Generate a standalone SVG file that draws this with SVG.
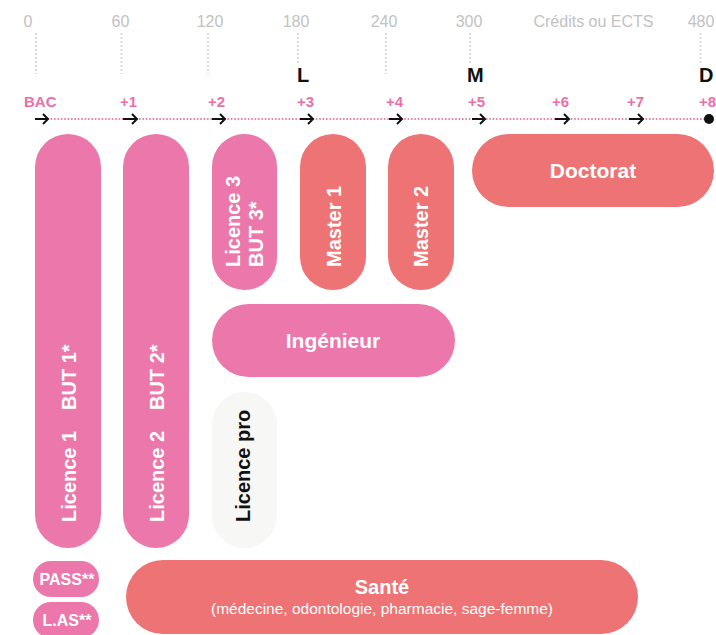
<svg xmlns="http://www.w3.org/2000/svg" width="716" height="635" viewBox="0 0 716 635">
<style>
.num{font-family:"Liberation Sans",Arial,sans-serif;font-size:16px;fill:#c2c2c2;text-anchor:middle}
.tick{stroke:#dcdcdc;stroke-width:2;stroke-dasharray:2 2}
.lmd{font-family:"Liberation Sans",Arial,sans-serif;font-size:20px;font-weight:bold;fill:#111}
.yr{font-family:"Liberation Sans",Arial,sans-serif;font-size:15px;font-weight:bold;fill:#ec6fa6}
.arr{fill:none;stroke:#111;stroke-width:2}
.pink{fill:#ec77aa}
.sal{fill:#ed7374}
.lbl{font-family:"Liberation Sans",Arial,sans-serif;font-size:20px;font-weight:bold;fill:#fff}
.big{font-size:21px}
.ctr{text-anchor:middle}
.sm{font-family:"Liberation Sans",Arial,sans-serif;font-size:15.5px;fill:#fff;text-anchor:middle}
</style>
<g id="axis">
<text class="num" x="28" y="27">0</text>
<text class="num" x="120.5" y="27">60</text>
<text class="num" x="210" y="27">120</text>
<text class="num" x="296" y="27">180</text>
<text class="num" x="384" y="27">240</text>
<text class="num" x="469" y="27">300</text>
<text class="num" x="593.5" y="27">Crédits ou ECTS</text>
<text class="num" x="701" y="27">480</text>
<line class="tick" x1="36" y1="33" x2="36" y2="74"/>
<line class="tick" x1="121.5" y1="33" x2="121.5" y2="74"/>
<line class="tick" x1="208" y1="33" x2="208" y2="74"/>
<line class="tick" x1="298" y1="33" x2="298" y2="64"/>
<line class="tick" x1="386" y1="33" x2="386" y2="74"/>
<line class="tick" x1="470" y1="33" x2="470" y2="64"/>
<line class="tick" x1="700.5" y1="33" x2="700.5" y2="64"/>
<text class="lmd" x="297" y="82">L</text>
<text class="lmd" x="467" y="82">M</text>
<text class="lmd" x="699" y="82">D</text>
<text class="yr" x="24" y="107">BAC</text>
<text class="yr" x="120" y="107">+1</text>
<text class="yr" x="208" y="107">+2</text>
<text class="yr" x="297" y="107">+3</text>
<text class="yr" x="386" y="107">+4</text>
<text class="yr" x="468" y="107">+5</text>
<text class="yr" x="552" y="107">+6</text>
<text class="yr" x="627" y="107">+7</text>
<text class="yr" x="699" y="107">+8</text>
</g>
<g id="connectors">
<line x1="48" y1="119" x2="706" y2="119" stroke="#ec77aa" stroke-width="2" stroke-linecap="round" stroke-dasharray="0 3.4"/>
<path class="arr" d="M35 119H48M43 114L48 119L43 124"/>
<path class="arr" d="M123 119H137M132 114L137 119L132 124"/>
<path class="arr" d="M212 119H225M220 114L225 119L220 124"/>
<path class="arr" d="M300 119H313M308 114L313 119L308 124"/>
<path class="arr" d="M389 119H402M397 114L402 119L397 124"/>
<path class="arr" d="M472 119H485M480 114L485 119L480 124"/>
<path class="arr" d="M555 119H569M564 114L569 119L564 124"/>
<path class="arr" d="M629 119H643M638 114L643 119L638 124"/>
<circle cx="709" cy="119" r="5" fill="#111"/>
</g>
<g id="licence1">
<rect class="pink" x="35" y="134" width="66" height="414" rx="33"/>
<text class="lbl" transform="translate(76,522) rotate(-90)">Licence 1</text>
<text class="lbl" transform="translate(76,410) rotate(-90)">BUT 1*</text>
</g>
<g id="licence2">
<rect class="pink" x="123" y="134" width="66" height="414" rx="33"/>
<text class="lbl" transform="translate(164,522) rotate(-90)">Licence 2</text>
<text class="lbl" transform="translate(164,410) rotate(-90)">BUT 2*</text>
</g>
<g id="licence3">
<rect class="pink" x="212" y="134" width="65" height="156" rx="32.5"/>
<text class="lbl" transform="translate(240,267) rotate(-90)">Licence 3</text>
<text class="lbl" transform="translate(263,267) rotate(-90)">BUT 3*</text>
</g>
<g id="master1">
<rect class="sal" x="300" y="134" width="66" height="156" rx="33"/>
<text class="lbl" transform="translate(341,267) rotate(-90)">Master 1</text>
</g>
<g id="master2">
<rect class="sal" x="388" y="134" width="66" height="156" rx="33"/>
<text class="lbl" transform="translate(428,267) rotate(-90)">Master 2</text>
</g>
<g id="doctorat">
<rect class="sal" x="472" y="134" width="242" height="73" rx="36.5"/>
<text class="lbl big ctr" x="593" y="178">Doctorat</text>
</g>
<g id="ingenieur">
<rect class="pink" x="212" y="304" width="243" height="73" rx="36.5"/>
<text class="lbl big ctr" x="333" y="348">Ingénieur</text>
</g>
<g id="licencepro">
<rect x="212" y="392" width="65" height="156" rx="32.5" fill="#f7f7f5"/>
<text class="lbl" style="fill:#111" transform="translate(250,522) rotate(-90)">Licence pro</text>
</g>
<g id="pass">
<rect class="pink" x="33" y="561" width="66" height="36" rx="18"/>
<text class="lbl ctr" style="font-size:16px" x="67" y="585">PASS**</text>
</g>
<g id="las">
<rect class="pink" x="33" y="602" width="66" height="36" rx="18"/>
<text class="lbl ctr" style="font-size:16px" x="67" y="626">L.AS**</text>
</g>
<g id="sante">
<rect class="sal" x="126" y="560" width="512" height="74" rx="37"/>
<text class="lbl ctr" style="font-size:20px" x="382" y="593.5">Santé</text>
<text class="sm" x="382" y="614">(médecine, odontologie, pharmacie, sage-femme)</text>
</g>
</svg>
